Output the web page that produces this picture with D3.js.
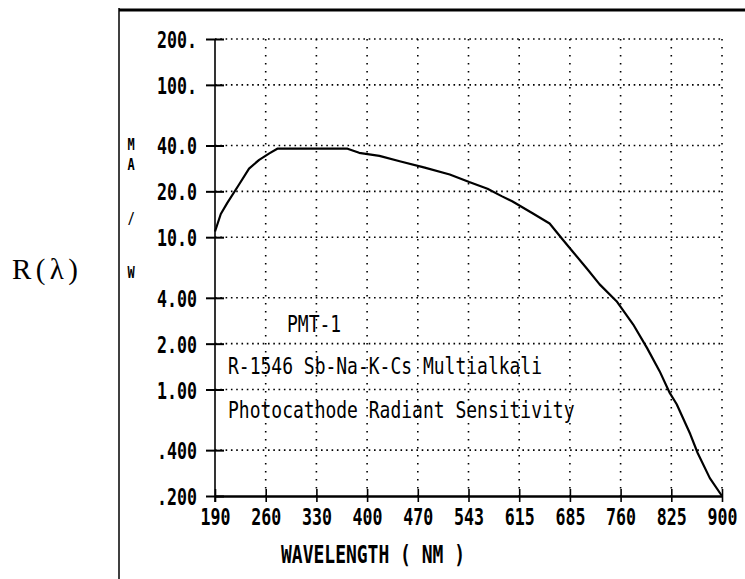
<!DOCTYPE html>
<html>
<head>
<meta charset="utf-8">
<script src="https://cdn.jsdelivr.net/npm/d3@7"></script>
<style>
  body { margin: 0; background: #fff; }
  #chart { width: 745px; height: 579px; }
</style>
</head>
<body>
<div id="chart"></div>
<script>
// tick labels as printed on the plot (x ticks are evenly spaced on paper)
const xTicks = [190, 260, 330, 400, 470, 543, 615, 685, 760, 825, 900];
const yTicks = [200, 100, 40, 20, 10, 4, 2, 1, 0.4, 0.2];
const yTickLabels = ["200.", "100.", "40.0", "20.0", "10.0", "4.00", "2.00", "1.00", ".400", ".200"];

// radiant sensitivity curve (nm, mA/W)
const wavelength = [190, 198, 207, 223, 237, 251, 265, 276, 373, 389, 417, 445, 480, 516, 544, 570, 590, 605, 634, 657, 675, 689, 710, 729, 754, 776, 794, 810, 823, 833, 853, 864, 882, 900];
const sensitivity = [10.9, 14.2, 16.8, 22.1, 28.2, 32.2, 35.5, 38.1, 38.1, 35.8, 34.2, 31.5, 28.6, 25.8, 23.0, 20.8, 18.6, 17.2, 14.3, 12.3, 9.66, 8.06, 6.23, 4.9, 3.8, 2.68, 1.87, 1.32, 0.95, 0.8, 0.51, 0.383, 0.262, 0.2];

const notes = ["PMT-1", "R-1546 Sb-Na-K-Cs Multialkali", "Photocathode Radiant Sensitivity"];
const yUnit = ["M", "A", "/", "W"];

const W = 745, H = 579;
const plot = { left: 215, right: 722, top: 39, bottom: 496 };
const mono = "'DejaVu Sans Mono', monospace";

const svg = d3.select("#chart").append("svg")
    .attr("width", W)
    .attr("height", H);

// frame of the printout (top and left edges only)
svg.append("line")
    .attr("x1", 119).attr("x2", W).attr("y1", 10).attr("y2", 10)
    .attr("stroke", "#000").attr("stroke-width", 3);
svg.append("line")
    .attr("x1", 119).attr("x2", 119).attr("y1", 8).attr("y2", H)
    .attr("stroke", "#000").attr("stroke-width", 1.5);

const step = (plot.right - plot.left) / (xTicks.length - 1);
const x = d3.scaleLinear()
    .domain(xTicks)
    .range(xTicks.map((d, i) => plot.left + i * step));

const y = d3.scaleLog()
    .domain([0.2, 200])
    .range([plot.bottom, plot.top]);

// dotted grid
svg.append("g")
    .selectAll("line")
    .data(yTicks.filter(d => d !== 0.2))
    .join("line")
    .attr("x1", plot.left).attr("x2", plot.right)
    .attr("y1", d => y(d)).attr("y2", d => y(d))
    .attr("stroke", "#000")
    .attr("stroke-width", 1.6)
    .attr("stroke-dasharray", "1.6,3.7");

svg.append("g")
    .selectAll("line")
    .data(xTicks.slice(1))
    .join("line")
    .attr("x1", d => x(d)).attr("x2", d => x(d))
    .attr("y1", plot.top).attr("y2", plot.bottom)
    .attr("stroke", "#000")
    .attr("stroke-width", 1.6)
    .attr("stroke-dasharray", "1.6,6.4");

// y axis
const yAxis = svg.append("g")
    .attr("transform", `translate(${plot.left},0)`)
    .call(d3.axisLeft(y)
        .tickValues(yTicks)
        .tickFormat((d, i) => yTickLabels[i])
        .tickSizeInner(8)
        .tickSizeOuter(0));

yAxis.select(".domain").remove();
yAxis.selectAll(".tick line")
    .attr("x1", 9).attr("x2", -9)
    .attr("stroke-width", 2);
yAxis.selectAll(".tick text")
    .attr("x", 0).attr("dy", 0).attr("y", 0)
    .attr("transform", "translate(-18,8.5) scale(1,1.4)")
    .style("font-family", mono)
    .style("font-weight", "bold")
    .style("font-size", "16.6px")
    .attr("fill", "#000")
    .attr("text-anchor", "end");

svg.append("line")
    .attr("x1", plot.left).attr("x2", plot.left)
    .attr("y1", plot.top).attr("y2", plot.bottom + 6)
    .attr("stroke", "#000").attr("stroke-width", 1.6);

// x axis
const xAxis = svg.append("g")
    .attr("transform", `translate(0,${plot.bottom})`)
    .call(d3.axisBottom(x)
        .tickValues(xTicks)
        .tickFormat(d3.format("d"))
        .tickSizeInner(6)
        .tickSizeOuter(0));

xAxis.select(".domain").attr("stroke-width", 2.4);
xAxis.selectAll(".tick line")
    .attr("y1", -7).attr("y2", 6)
    .attr("stroke-width", 1.6);
xAxis.selectAll(".tick text")
    .attr("y", 0).attr("dy", 0)
    .attr("transform", "translate(0,29) scale(1,1.4)")
    .style("font-family", mono)
    .style("font-weight", "bold")
    .style("font-size", "16.6px")
    .attr("fill", "#000");

// sensitivity curve
const points = wavelength.map((d, i) => [d, sensitivity[i]]);
svg.append("path")
    .datum(points)
    .attr("fill", "none")
    .attr("stroke", "#000")
    .attr("stroke-width", 2.2)
    .attr("stroke-linejoin", "round")
    .attr("d", d3.line().x(d => x(d[0])).y(d => y(d[1])));

// annotation inside the plot
const notePos = [[287, 332], [228, 374], [228, 418]];
svg.append("g")
    .selectAll("text")
    .data(notes)
    .join("text")
    .attr("transform", (d, i) => `translate(${notePos[i][0]},${notePos[i][1]}) scale(1,1.3)`)
    .style("font-family", mono)
    .style("font-size", "18px")
    .text(d => d);

// axis titles
svg.append("text")
    .attr("transform", "translate(281,563) scale(1,1.4)")
    .style("font-family", mono)
    .style("font-weight", "bold")
    .style("font-size", "18px")
    .text("WAVELENGTH ( NM )");

// vertical unit label M A / W, one letter per line
const unitY = [150, 169.5, 224, 278];
svg.append("g")
    .selectAll("text")
    .data(yUnit)
    .join("text")
    .attr("transform", (d, i) => `translate(131,${unitY[i]}) scale(1,1.35)`)
    .attr("text-anchor", "middle")
    .style("font-family", mono)
    .style("font-weight", "bold")
    .style("font-size", "12px")
    .text(d => d);

svg.append("text")
    .attr("x", 12)
    .attr("y", 279)
    .attr("textLength", 66)
    .attr("lengthAdjust", "spacing")
    .style("font-family", "'Liberation Serif', 'Times New Roman', serif")
    .style("font-size", "29px")
    .text("R(λ)");
</script>
</body>
</html>
